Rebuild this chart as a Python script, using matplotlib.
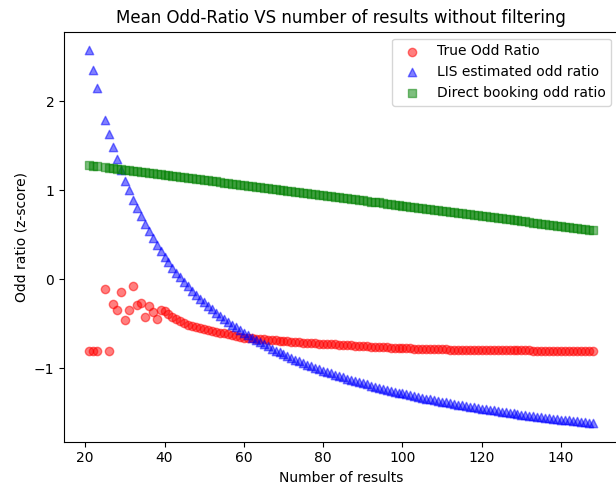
import matplotlib
matplotlib.use("Agg")
import matplotlib.pyplot as plt

# number of results (24 is missing in the source data)
n_results = [21, 22, 23] + list(range(25, 149))

true_odd = [
    -0.806, -0.806, -0.806, -0.110, -0.806, -0.280, -0.350, -0.145, -0.460, -0.350,
    -0.080, -0.290, -0.270, -0.420, -0.300, -0.370, -0.450, -0.350, -0.360, -0.390,
    -0.420, -0.450, -0.470, -0.490, -0.510, -0.525, -0.535, -0.545, -0.557, -0.568,
    -0.578, -0.588, -0.598, -0.607, -0.617, -0.625, -0.635, -0.645, -0.655, -0.659,
    -0.663, -0.667, -0.671, -0.675, -0.679, -0.683, -0.686, -0.690, -0.693, -0.697,
    -0.700, -0.704, -0.707, -0.711, -0.714, -0.717, -0.719, -0.722, -0.725, -0.727,
    -0.730, -0.732, -0.735, -0.737, -0.740, -0.743, -0.746, -0.749, -0.752, -0.754,
    -0.756, -0.758, -0.761, -0.763, -0.765, -0.767, -0.769, -0.771, -0.773, -0.775,
    -0.776, -0.778, -0.779, -0.781, -0.782, -0.783, -0.785, -0.786, -0.787, -0.788,
    -0.789, -0.789, -0.790, -0.791, -0.792, -0.792, -0.793, -0.793, -0.794, -0.794,
    -0.795, -0.795, -0.796, -0.796, -0.797, -0.797, -0.797, -0.798, -0.798, -0.799,
    -0.799, -0.800, -0.800, -0.801, -0.801, -0.801, -0.802, -0.802, -0.803, -0.803,
    -0.803, -0.804, -0.804, -0.805, -0.805, -0.806, -0.806,
]

lis_odd = [
    2.570, 2.349, 2.146, 1.790, 1.632, 1.487, 1.351, 1.225, 1.107, 0.997,
    0.894, 0.797, 0.706, 0.620, 0.538, 0.462, 0.389, 0.320, 0.254, 0.192,
    0.132, 0.075, 0.021, -0.030, -0.080, -0.127, -0.173, -0.216, -0.258, -0.298,
    -0.337, -0.374, -0.410, -0.444, -0.477, -0.510, -0.540, -0.570, -0.599, -0.627,
    -0.654, -0.681, -0.706, -0.731, -0.754, -0.778, -0.800, -0.822, -0.843, -0.864,
    -0.884, -0.903, -0.922, -0.941, -0.959, -0.976, -0.993, -1.010, -1.026, -1.042,
    -1.057, -1.072, -1.087, -1.101, -1.115, -1.129, -1.142, -1.155, -1.168, -1.181,
    -1.193, -1.205, -1.217, -1.228, -1.239, -1.250, -1.261, -1.272, -1.282, -1.292,
    -1.302, -1.312, -1.321, -1.331, -1.340, -1.349, -1.358, -1.367, -1.375, -1.383,
    -1.392, -1.400, -1.408, -1.416, -1.423, -1.431, -1.438, -1.445, -1.453, -1.460,
    -1.467, -1.473, -1.480, -1.487, -1.493, -1.500, -1.506, -1.512, -1.518, -1.524,
    -1.530, -1.536, -1.542, -1.547, -1.553, -1.559, -1.564, -1.569, -1.575, -1.580,
    -1.585, -1.590, -1.595, -1.600, -1.605, -1.609, -1.614,
]

direct_odd = [
    1.282, 1.276, 1.270, 1.259, 1.253, 1.247, 1.242, 1.236, 1.230, 1.224,
    1.219, 1.213, 1.207, 1.201, 1.196, 1.190, 1.184, 1.178, 1.173, 1.167,
    1.161, 1.155, 1.150, 1.144, 1.138, 1.132, 1.127, 1.121, 1.115, 1.109,
    1.104, 1.098, 1.092, 1.086, 1.081, 1.075, 1.069, 1.063, 1.057, 1.052,
    1.046, 1.040, 1.034, 1.029, 1.023, 1.017, 1.011, 1.006, 1.000, 0.994,
    0.988, 0.983, 0.977, 0.971, 0.965, 0.960, 0.954, 0.948, 0.942, 0.937,
    0.931, 0.925, 0.919, 0.914, 0.908, 0.902, 0.896, 0.891, 0.885, 0.879,
    0.873, 0.868, 0.862, 0.856, 0.850, 0.845, 0.839, 0.833, 0.827, 0.822,
    0.816, 0.810, 0.804, 0.799, 0.793, 0.787, 0.781, 0.776, 0.770, 0.764,
    0.758, 0.753, 0.747, 0.741, 0.735, 0.729, 0.724, 0.718, 0.712, 0.706,
    0.701, 0.695, 0.689, 0.683, 0.678, 0.672, 0.666, 0.660, 0.655, 0.649,
    0.643, 0.637, 0.632, 0.626, 0.620, 0.614, 0.609, 0.603, 0.597, 0.591,
    0.586, 0.580, 0.574, 0.568, 0.563, 0.557, 0.551,
]

fig = plt.figure(figsize=(6.16, 4.96), dpi=100)
# the reference is cropped on the right, so the axes run past the edge
ax = fig.add_axes([64 / 616, 0.1095, 554 / 616, 0.8266])

ax.scatter(n_results, true_odd, c="red", marker="o", alpha=0.5, label="True Odd Ratio")
ax.scatter(n_results, lis_odd, c="blue", marker="^", alpha=0.5, label="LIS estimated odd ratio")
ax.scatter(n_results, direct_odd, c="green", marker="s", alpha=0.5, label="Direct booking odd ratio")

ax.set_title("Mean Odd-Ratio VS number of results without filtering")
ax.set_xlabel("Number of results")
ax.set_ylabel("Odd ratio (z-score)")
ax.legend(loc="upper right")

fig.savefig("out.png", dpi=100)
